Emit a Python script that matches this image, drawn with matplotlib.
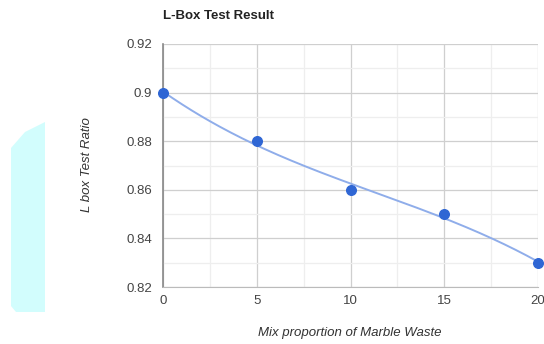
import numpy as np
import matplotlib
matplotlib.use("Agg")
import matplotlib.pyplot as plt
from matplotlib.patches import Polygon

# Marble waste proportion (%) and measured L-box ratio
mix_proportion = [0, 5, 10, 15, 20]
lbox_ratio = [0.90, 0.88, 0.86, 0.85, 0.83]

x_ticks = [0, 5, 10, 15, 20]
y_ticks = [0.82, 0.84, 0.86, 0.88, 0.90, 0.92]
y_tick_labels = ["0.82", "0.84", "0.86", "0.88", "0.9", "0.92"]

plt.rcParams["font.family"] = ["Liberation Sans", "DejaVu Sans"]

fig = plt.figure(figsize=(5.44, 3.44), dpi=100)
W, H = 544, 344
ax = fig.add_axes([163 / W, 1 - 287 / H, (538 - 163) / W, (287 - 44) / H])

# pale cyan panel on the left
panel = Polygon(
    [(45 / W, 1 - 122 / H), (45 / W, 1 - 312 / H), (16 / W, 1 - 312 / H),
     (11 / W, 1 - 306 / H), (11 / W, 1 - 148 / H), (25 / W, 1 - 132 / H)],
    closed=True, transform=fig.transFigure, facecolor="#d2fdfd",
    edgecolor="none", zorder=0)
fig.patches.append(panel)

# cubic trendline through the measurements
coef = np.polyfit(mix_proportion, lbox_ratio, 3)
xs = np.linspace(0, 20, 200)
ax.plot(xs, np.polyval(coef, xs), color="#8fadea", lw=1.4, zorder=3, clip_on=False)
ax.scatter(mix_proportion, lbox_ratio, s=48, color="#2f66d4", zorder=4, clip_on=False)

ax.set_xlim(0, 20)
ax.set_ylim(0.82, 0.92)
ax.set_xticks(x_ticks)
ax.set_xticks([2.5, 7.5, 12.5, 17.5], minor=True)
ax.set_yticks(y_ticks)
ax.set_yticklabels(y_tick_labels)
ax.set_yticks([0.83, 0.85, 0.87, 0.89, 0.91], minor=True)
ax.grid(True, which="major", color="#cfcfcf", lw=0.9)
ax.grid(True, which="minor", color="#eeeeee", lw=0.9)
ax.set_axisbelow(True)

for side in ("top", "right"):
    ax.spines[side].set_visible(False)
ax.spines["left"].set_color("#888888")
ax.spines["left"].set_linewidth(1.2)
ax.spines["bottom"].set_color("#bbbbbb")
ax.tick_params(which="both", length=0)
ax.tick_params(axis="y", pad=8, labelsize=9.5, labelcolor="#444444")
ax.tick_params(axis="x", pad=6, labelsize=9.5, labelcolor="#444444")

fig.text(163 / W, 1 - 16 / H, "L-Box Test Result", fontsize=9.5, fontweight="bold",
         ha="left", va="center", color="#222222")
fig.text(87 / W, 1 - 165 / H, "L box Test Ratio", fontsize=9.5, style="italic",
         rotation=90, ha="center", va="center", color="#333333")
fig.text(350 / W, 1 - 333 / H, "Mix proportion of Marble Waste", fontsize=9.5,
         style="italic", ha="center", va="center", color="#333333")

fig.savefig("out.png", dpi=100)
